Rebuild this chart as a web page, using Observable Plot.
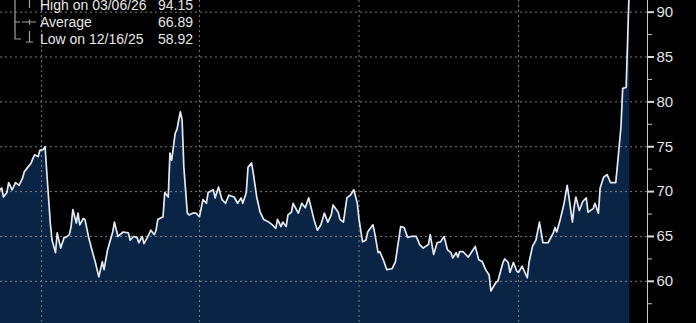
<!DOCTYPE html>
<html>
<head>
<meta charset="utf-8">
<script src="https://cdn.jsdelivr.net/npm/d3@7"></script>
<script src="https://cdn.jsdelivr.net/npm/@observablehq/plot@0.6"></script>
<style>
  html, body { margin: 0; padding: 0; background: #000; }
  #wrap { position: relative; width: 696px; height: 323px; background: #000; overflow: hidden; }
  #legend { position: absolute; left: 0; top: 0; }
</style>
</head>
<body>
<div id="wrap"></div>
<script>
// ---- Data ----
const startDate = "2025-03-06";
// day offsets from startDate
const days = [
  2,3,4,6,7,9,11,13,15,16,18,20,21,22,24,25,27,28,29,31,32,34,35,37,39,40,42,43,44,46,47,48,50,51,53,55,57,59,61,62,64,67,68,70,73,76,77,79,81,82,84,85,87,89,91,92,93,96,97,99,100,101,103,104,106,107,108,110,111,113,115,117,119,121,122,125,126,128,130,132,134,137,139,141,142,144,145,147,148,150,152,154,157,159,161,162,164,165,167,168,170,171,174,176,178,180,183,185,187,189,191,193,194,197,198,200,202,204,206,208,209,211,213,214,217,218,220,221,223,225,228,230,231,233,235,237,239,242,244,246,249,250,252,254,256,258,260,262,263,265,266,267,269,272,274,276,278,280,282,284,285,288,289,292,293,295,296,298,300,301,303,306,307,309,311,313,315,318,321,322,323,325,327,329,330,332,333,334,336,338,340,341,344,345,347,348,350,352,354,357,358,360,361,363,365
];
const values = [
  70.2,70.4,69.4,69.9,71.0,70.2,71.0,70.7,71.5,72.2,72.7,73.2,73.7,74.1,73.9,74.6,74.7,75.0,72.1,66.5,64.6,63.2,65.4,63.7,64.9,64.9,65.2,66.1,68.0,66.5,67.6,66.3,67.0,66.9,65.0,63.5,62.1,60.5,62.2,61.3,63.5,65.5,66.6,65.0,65.5,65.4,64.6,65.0,64.9,64.3,65.0,64.2,64.9,65.7,65.2,65.7,66.9,67.2,69.9,69.4,74.3,73.5,76.5,76.9,78.9,78.0,72.7,67.6,67.4,67.6,67.6,67.2,69.1,68.7,69.9,70.2,69.3,70.5,69.1,68.7,69.6,69.4,68.7,69.3,68.7,69.9,72.7,73.2,72.1,69.4,67.7,66.9,66.6,66.3,65.9,66.9,66.1,66.6,66.1,67.4,67.7,68.7,67.6,68.7,68.2,69.3,66.9,65.7,66.3,67.6,66.6,67.4,68.5,67.7,66.9,66.6,69.3,69.6,70.2,68.7,66.9,64.4,64.6,65.5,66.3,65.4,63.2,63.3,62.4,61.3,61.4,62.2,63.5,66.1,66.0,64.9,65.0,65.0,64.1,63.7,64.1,65.2,63.0,64.3,64.4,65.0,63.5,63.2,62.6,63.2,62.7,63.3,63.3,62.7,63.3,63.9,62.4,62.2,61.3,60.7,58.92,59.9,60.0,62.1,62.5,62.1,61.0,62.1,61.1,61.0,61.7,60.4,62.1,63.9,64.6,66.6,64.3,64.3,65.4,66.0,65.5,66.9,68.5,70.7,69.4,66.6,68.3,69.4,67.9,68.9,69.3,67.7,68.1,68.7,67.6,70.4,71.6,71.9,71.0,71.0,73.0,77.2,81.5,81.6,94.15
];
const yTicks = [60, 65, 70, 75, 80, 85, 90];
const yMinorTicks = [57.5, 62.5, 67.5, 72.5, 77.5, 82.5, 87.5];
const gridDates = ["2025-04-01", "2025-07-01", "2025-10-01", "2026-01-01"];
const legendRows = [
  {label: "High on 03/06/26", value: "94.15"},
  {label: "Average", value: "66.89"},
  {label: "Low on 12/16/25", value: "58.92"}
];

// ---- Build ----
const t0 = new Date(startDate + "T00:00:00Z");
const dayMs = 864e5;
const data = days.map((d, i) => ({date: new Date(+t0 + d * dayMs), value: values[i]}));
const xDomain = [new Date(+t0 + 2.3 * dayMs), new Date(+t0 + 375.3 * dayMs)];
const yDomain = [55.3, 91.3];
const grid = gridDates.map(s => new Date(s + "T00:00:00Z"));

const chart = Plot.plot({
  width: 696,
  height: 323,
  marginLeft: 0,
  marginRight: 49,
  marginTop: 0,
  marginBottom: 0,
  style: {background: "#000", color: "#e2e2e2", fontFamily: "'Liberation Sans', Arial, sans-serif", fontSize: "15px"},
  x: {type: "utc", domain: xDomain, axis: null},
  y: {domain: yDomain, axis: null},
  marks: [
    Plot.areaY(data, {x: "date", y: "value", y1: yDomain[0], fill: "#0a2445", clip: true, curve: "linear"}),
    Plot.gridY(yTicks, {stroke: "#8a8a8a", strokeOpacity: 0.9, strokeDasharray: "2,3", strokeWidth: 1}),
    Plot.gridX(grid, {stroke: "#8a8a8a", strokeOpacity: 0.9, strokeDasharray: "2,3", strokeWidth: 1}),
    Plot.lineY(data, {x: "date", y: "value", stroke: "#e4eaf2", strokeWidth: 1.7, clip: true, curve: "linear"}),
    Plot.ruleX([xDomain[1]], {stroke: "#c8c8c8", strokeWidth: 1}),
    Plot.axisY(yMinorTicks, {anchor: "right", tickSize: 4, tickFormat: () => "", stroke: "#c8c8c8", label: null}),
    Plot.axisY(yTicks, {anchor: "right", tickSize: 6, tickPadding: 3, strokeWidth: 2, stroke: "#d8d8d8", fill: "#e2e2e2", fontSize: 15, label: null})
  ]
});

const wrap = document.getElementById("wrap");
wrap.appendChild(chart);

// ---- Legend (top-left, partially cropped at top) ----
const ns = "http://www.w3.org/2000/svg";
const lg = document.createElementNS(ns, "svg");
lg.setAttribute("id", "legend");
lg.setAttribute("width", "200");
lg.setAttribute("height", "52");
const rowBase = [9.5, 27, 44.3];
function el(name, attrs) {
  const e = document.createElementNS(ns, name);
  for (const k in attrs) e.setAttribute(k, attrs[k]);
  lg.appendChild(e);
  return e;
}
const ic = "#a0a0a0";
// bracket
el("path", {d: "M15,-2 V39 H21 M15,22 H20", stroke: ic, fill: "none", "stroke-width": 1.2});
// high marker
el("path", {d: "M29.5,-2 V8 M26,-2 H33", stroke: ic, fill: "none", "stroke-width": 1.2});
// average marker
el("path", {d: "M22,22 H36 M29.5,19.5 V24.5", stroke: ic, fill: "none", "stroke-width": 1.2});
// low marker
el("path", {d: "M29.5,31 V42 M26,42 H33", stroke: ic, fill: "none", "stroke-width": 1.2});
legendRows.forEach((r, i) => {
  const t1 = el("text", {x: 40, y: rowBase[i], fill: "#e6e6e6", "font-family": "'Liberation Sans', Arial, sans-serif", "font-size": 14});
  t1.textContent = r.label;
  const t2 = el("text", {x: 193, y: rowBase[i], fill: "#e6e6e6", "text-anchor": "end", "font-family": "'Liberation Sans', Arial, sans-serif", "font-size": 14});
  t2.textContent = r.value;
});
wrap.appendChild(lg);
</script>
</body>
</html>
